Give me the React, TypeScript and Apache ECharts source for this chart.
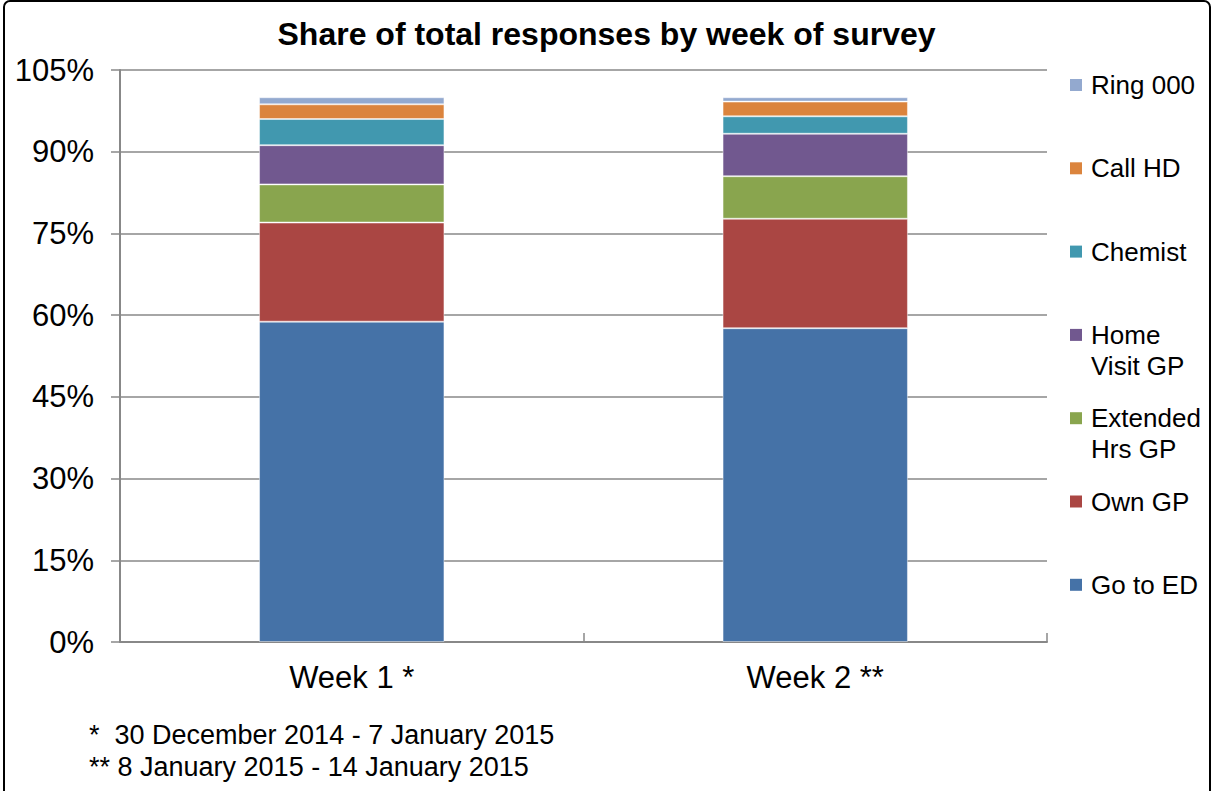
import React, { useEffect, useRef } from "react";
import * as echarts from "echarts";

const titleText = "Share of total responses by week of survey";
const categories = ["Week 1 *", "Week 2 **"];
const seriesNames = ["Go to ED", "Own GP", "Extended Hrs GP", "Home Visit GP", "Chemist", "Call HD", "Ring 000"];
const legendLabels = ["Go to ED", "Own GP", "Extended\nHrs GP", "Home\nVisit GP", "Chemist", "Call HD", "Ring 000"];
const goToED = [58.8, 57.6];
const ownGP = [18.2, 20.1];
const extendedHrsGP = [7.0, 7.8];
const homeVisitGP = [7.2, 7.8];
const chemist = [4.8, 3.2];
const callHD = [2.7, 2.7];
const ring000 = [1.3, 0.8];
const seriesValues = [goToED, ownGP, extendedHrsGP, homeVisitGP, chemist, callHD, ring000];
const colors = ["#4572A7", "#AA4643", "#89A54E", "#71588F", "#4198AF", "#DB843D", "#93A9CF"];
const yMin = 0;
const yMax = 105;
const yInterval = 15;
const footnotes = ["*  30 December 2014 - 7 January 2015", "** 8 January 2015 - 14 January 2015"];

const FONT = "'Liberation Sans', Arial, sans-serif";

export default function App() {
  const ref = useRef<HTMLDivElement>(null);
  useEffect(() => {
    if (!ref.current) return;
    const chart = echarts.init(ref.current, undefined, { renderer: "svg" });
    const n = seriesNames.length;
    const legendGraphics: any[] = [];
    for (let k = 0; k < n; k++) {
      const i = n - 1 - k;
      const cy = 85 + k * 83.3;
      legendGraphics.push({
        type: "rect",
        shape: { x: 1070, y: cy - 6, width: 12, height: 12 },
        style: { fill: colors[i] },
        silent: true,
      });
      legendGraphics.push({
        type: "text",
        x: 1091,
        y: cy - 15.5,
        style: {
          text: legendLabels[i],
          font: `26px ${FONT}`,
          fill: "#000",
          textVerticalAlign: "top",
          lineHeight: 31,
        },
        silent: true,
      });
    }
    const footGraphics = footnotes.map((t, i) => ({
      type: "text",
      x: 89,
      y: 735 + i * 32,
      style: { text: t, font: `27px ${FONT}`, fill: "#000", textVerticalAlign: "middle" },
      silent: true,
    }));
    chart.setOption({
      animation: false,
      title: {
        text: titleText,
        left: "center",
        top: 13,
        textStyle: { fontFamily: FONT, fontWeight: "bold", fontSize: 32, color: "#000" },
      },
      grid: { left: 120, right: 166, top: 70, bottom: 149 },
      xAxis: {
        type: "category",
        data: categories,
        axisLine: { show: true, lineStyle: { color: "#888", width: 2 } },
        axisTick: { show: true, inside: true, length: 9, lineStyle: { color: "#888", width: 1.5 } },
        axisLabel: { fontFamily: FONT, fontSize: 31, color: "#000", margin: 20 },
      },
      yAxis: {
        type: "value",
        min: yMin,
        max: yMax,
        interval: yInterval,
        axisLine: { show: true, lineStyle: { color: "#888", width: 2 } },
        axisTick: { show: true, length: 9, lineStyle: { color: "#888", width: 1.5 } },
        axisLabel: { fontFamily: FONT, fontSize: 31, color: "#000", margin: 26, formatter: "{value}%" },
        splitLine: { show: true, lineStyle: { color: "#888", width: 1.5 } },
      },
      series: seriesNames.map((name, i) => ({
        name,
        type: "bar",
        stack: "total",
        barWidth: "40%",
        data: seriesValues[i],
        itemStyle: { color: colors[i], borderColor: "rgba(255,255,255,0.45)", borderWidth: 1 },
      })),
      graphic: [
        {
          type: "rect",
          shape: { x: 4, y: 1, width: 1206, height: 830, r: 6 },
          style: { fill: "none", stroke: "#000", lineWidth: 2 },
          silent: true,
        },
        ...legendGraphics,
        ...footGraphics,
      ],
    });
    return () => chart.dispose();
  }, []);
  return (
    <div
      ref={ref}
      style={{ position: "fixed", left: 0, top: 0, width: 1213, height: 791, background: "#fff" }}
    />
  );
}
